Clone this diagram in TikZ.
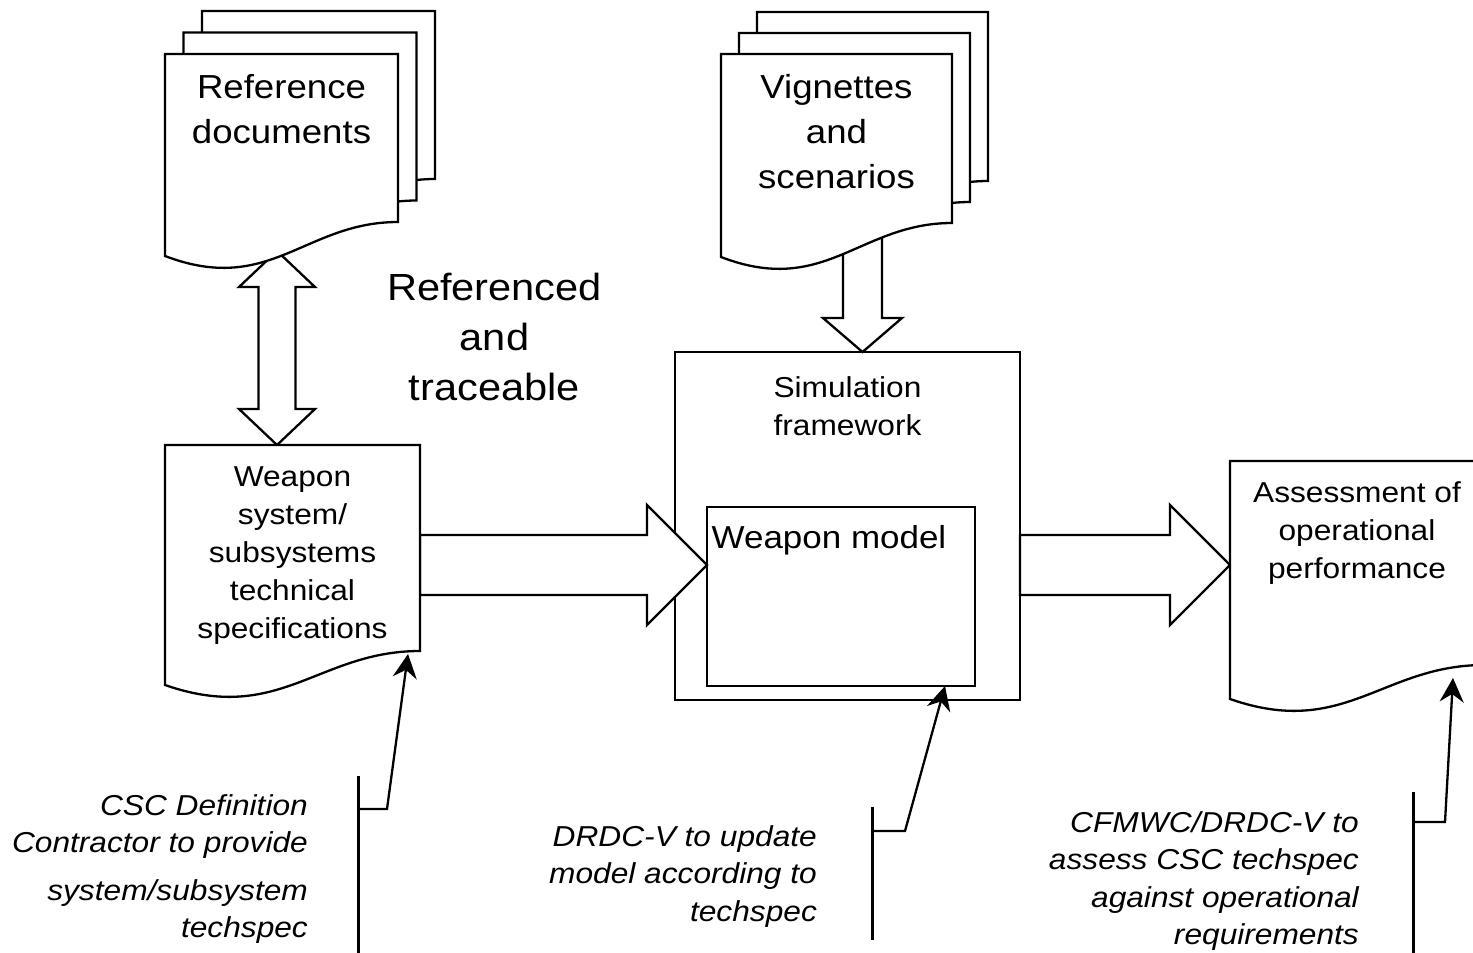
\documentclass[tikz,border=0pt]{standalone}
\usepackage{fontspec}
\setmainfont{Liberation Sans}[FakeStretch=1.1]
\usetikzlibrary{positioning, calc, arrows.meta}

\newcommand{\docshape}[2]{%
  \draw[doc] ([shift={#2}]#1.north west) -- ([shift={#2}]#1.north east)
    -- ([shift={#2},yshift=34pt]#1.south east)
    .. controls ($(#1.south west)!0.6!(#1.south east)+#2+(0,-34)$)
            and ($(#1.south west)!0.45!(#1.south east)+#2+(0,40)$)
    .. ([shift={#2}]#1.south west) -- cycle;}

\begin{document}
\begin{tikzpicture}[x=1pt, y=-1pt,
    line width=2.3pt,
    docframe/.style={draw=none, inner sep=0pt, outer sep=0pt, anchor=north west},
    doc/.style={draw, fill=white},
    fat/.style={draw, fill=white},
    bigtext/.style={inner sep=0pt, align=center, font=\fontsize{33.3}{45}\selectfont},
    headtext/.style={inner sep=0pt, align=center, anchor=north, font=\fontsize{37.8}{50}\selectfont},
    midtext/.style={inner sep=0pt, align=center, font=\fontsize{28.8}{38}\selectfont},
    modeltext/.style={inner sep=0pt, font=\fontsize{31.8}{38}\selectfont},
    notetext/.style={inner sep=0pt, align=right, anchor=north east, font=\fontsize{28.8}{37.5}\selectfont\itshape},
    notebar/.style={line width=3pt},
    noteline/.style={-{Stealth[length=24pt, width=24pt, inset=8pt]}}]

    \useasboundingbox (0,0) rectangle (1473,953);

    \node[docframe, minimum width=233pt, minimum height=202pt] (ref) at (165,54) {};
    \node[docframe, minimum width=255pt, minimum height=240pt,
          below=189pt of ref.south west, anchor=north west] (spec) {};
    \node[docframe, minimum width=231pt, minimum height=203pt,
          right=323pt of ref.north east, anchor=north west] (vig) {};
    \node[docframe, draw, minimum width=345pt, minimum height=348pt] (sim) at (675,352) {};
    \node[docframe, draw, minimum width=268pt, minimum height=179pt,
          below right=155pt and 32pt of sim.north west] (wm) {};
    \node[docframe, minimum width=254pt, minimum height=238pt] (assess) at (1230,461) {};

    \draw[fat] let \p1=([xshift=-4.5pt]ref.south), \p2=(spec.north) in
        (\x1,\y1+5pt) -- (\x1+38pt,\y1-31pt) -- (\x1+18.5pt,\y1-31pt) -- (\x1+18.5pt,\y2+36pt)
        -- (\x1+38pt,\y2+36pt) -- (\x1,\y2) -- (\x1-38pt,\y2+36pt) -- (\x1-18.5pt,\y2+36pt)
        -- (\x1-18.5pt,\y1-31pt) -- (\x1-38pt,\y1-31pt) -- cycle;
    \draw[fat] let \p1=([xshift=26pt]vig.center), \p2=(sim.north) in
        (\x1-19.5pt,\y1) -- (\x1-19.5pt,\y2+34pt) -- (\x1-39.5pt,\y2+34pt) -- (\x1,\y2)
        -- (\x1+39.5pt,\y2+34pt) -- (\x1+19.5pt,\y2+34pt) -- (\x1+19.5pt,\y1) -- cycle;
    \draw[fat] let \p1=(spec.east), \p2=(wm.west) in
        (\x1,\y1+30pt) -- (\x2-60pt,\y1+30pt) -- (\x2-60pt,\y1+60pt) -- (\x2,\y1)
        -- (\x2-60pt,\y1-60pt) -- (\x2-60pt,\y1-30pt) -- (\x1,\y1-30pt) -- cycle;
    \draw[fat] let \p1=(sim.east), \p2=(assess.west), \p3=(spec.east) in
        (\x1,\y3+30pt) -- (\x2-60pt,\y3+30pt) -- (\x2-60pt,\y3+60pt) -- (\x2,\y3)
        -- (\x2-60pt,\y3-60pt) -- (\x2-60pt,\y3-30pt) -- (\x1,\y3-30pt) -- cycle;

    \docshape{ref}{(37,-43)}
    \docshape{ref}{(18.5,-21.5)}
    \docshape{ref}{(0,0)}
    \docshape{vig}{(36,-42)}
    \docshape{vig}{(18,-21)}
    \docshape{vig}{(0,0)}
    \docshape{spec}{(0,0)}
    \docshape{assess}{(0,0)}

    \node[bigtext, below=19pt of ref.north] (reft) {Reference\\documents};
    \node[bigtext, below=19.5pt of vig.north] (vigt) {Vignettes\\and\\scenarios};
    \node[midtext, below=21pt of spec.north] (spect)
        {Weapon\\system/\\subsystems\\technical\\specifications};
    \node[midtext, below=23pt of sim.north] (simt) {Simulation\\framework};
    \node[modeltext, below=17pt of wm.north, xshift=-12pt] (wmt) {Weapon model};
    \node[midtext, below=20pt of assess.north] (assesst) {Assessment of\\operational\\performance};
    \node[headtext] (trace) at (494.5,272) {Referenced\\and\\traceable};

    \node[notetext] (notea) at (309,793)
        {CSC Definition\\Contractor to provide\\[10pt]system/subsystem\\techspec};
    \node[notetext] (noteb) at (818,824) {DRDC-V to update\\model according to\\techspec};
    \node[notetext] (notec) at (1360,810)
        {CFMWC/DRDC-V to\\assess CSC techspec\\against operational\\requirements};

    \draw[notebar] (358,776) -- (358,953);
    \coordinate (ticka) at (358,809);
    \draw[noteline] (ticka) -- ++(29,0) -- ([shift={(-12,-31)}]spec.south east);
    \draw[notebar] (872,807) -- (872,940);
    \coordinate (tickb) at (872,831);
    \draw[noteline] (tickb) -- ++(33,0) -- ([shift={(-30,0)}]wm.south east);
    \draw[notebar] (1413,792) -- (1413,953);
    \coordinate (tickc) at (1413,822);
    \draw[noteline] (tickc) -- ++(32,0) -- ([shift={(-31,-21)}]assess.south east);
\end{tikzpicture}
\end{document}
